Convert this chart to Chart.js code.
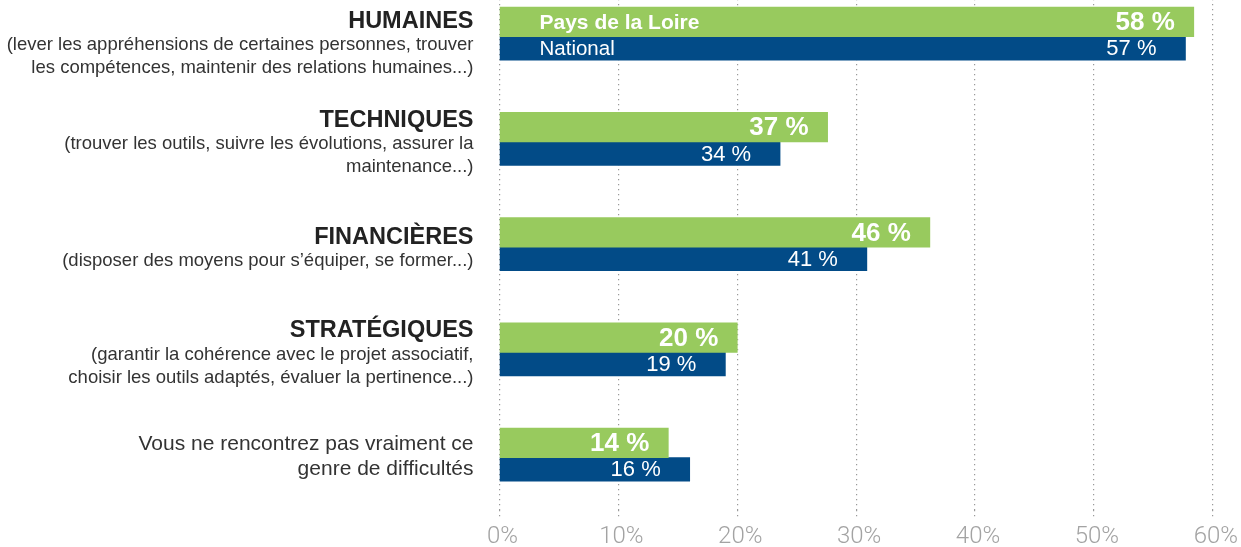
<!DOCTYPE html>
<html>
<head>
<meta charset="utf-8">
<script src="https://cdn.jsdelivr.net/npm/chart.js@4"></script>
<style>
  html, body { margin: 0; padding: 0; background: #fff; overflow: hidden; }
  #wrap { position: absolute; left: 0; top: -16px; width: 1241px; height: 563px; }
</style>
</head>
<body>
<div id="wrap"><canvas id="difficultesChart"></canvas></div>
<script>
// categories (titles + description lines shown left of the bars)
const titles = ['HUMAINES', 'TECHNIQUES', 'FINANCIÈRES', 'STRATÉGIQUES', ''];
const descriptions = [
  ['(lever les appréhensions de certaines personnes, trouver', 'les compétences, maintenir des relations humaines...)'],
  ['(trouver les outils, suivre les évolutions, assurer la', 'maintenance...)'],
  ['(disposer des moyens pour s\u2019équiper, se former...)'],
  ['(garantir la cohérence avec le projet associatif,', 'choisir les outils adaptés, évaluer la pertinence...)'],
  ['Vous ne rencontrez pas vraiment ce', 'genre de difficultés']
];

// bar lengths as drawn in the picture (some bars are shorter than their printed value)
const paysValues = [58.4, 27.6, 36.2, 20.0, 14.2];
const nationalValues = [57.7, 23.6, 30.9, 19.0, 16.0];

// printed values
const paysLabels = ['58 %', '37 %', '46 %', '20 %', '14 %'];
const nationalLabels = ['57 %', '34 %', '41 %', '19 %', '16 %'];

const xTicks = [0, 10, 20, 30, 40, 50, 60];

const seriesNames = ['Pays de la Loire', 'National'];

const GREEN = '#98ca5e';
const NAVY = '#024b87';
const FONT = '"Liberation Sans", Arial, sans-serif';

const labelPlugin = {
  id: 'labels',
  afterDatasetsDraw(chart) {
    const ctx = chart.ctx;
    const yScale = chart.scales.y;
    const left = chart.chartArea.left;
    ctx.save();

    // left side category texts
    ctx.textAlign = 'right';
    ctx.textBaseline = 'middle';
    titles.forEach((t, i) => {
      const c = yScale.getPixelForValue(i);
      const lines = [];
      if (t) lines.push({ text: t, font: 'bold 23.5px ' + FONT, h: 24, color: '#222' });
      descriptions[i].forEach(d => {
        if (t) lines.push({ text: d, font: '18.5px ' + FONT, h: 23, color: '#333' });
        else lines.push({ text: d, font: '21px ' + FONT, h: 25, color: '#333' });
      });
      const total = lines.reduce((s, l) => s + l.h, 0);
      let y = c - total / 2 + (t ? 1.5 : -1) + (i === 0 ? 6 : 0);
      lines.forEach(l => {
        ctx.font = l.font;
        ctx.fillStyle = l.color;
        ctx.fillText(l.text, left - 26, y + l.h / 2);
        y += l.h;
      });
    });

    // values inside the bars
    ctx.fillStyle = '#fff';
    const metaP = chart.getDatasetMeta(0);
    const metaN = chart.getDatasetMeta(1);
    ctx.textAlign = 'right';
    metaP.data.forEach((bar, i) => {
      ctx.font = 'bold 26px ' + FONT;
      ctx.fillText(paysLabels[i], bar.x - 19, bar.y + 1);
    });
    metaN.data.forEach((bar, i) => {
      ctx.font = '22px ' + FONT;
      ctx.fillText(nationalLabels[i], bar.x - 29, bar.y + 1);
    });

    // series names in the first group
    ctx.textAlign = 'left';
    ctx.font = 'bold 21px ' + FONT;
    ctx.fillText(seriesNames[0], left + 40, metaP.data[0].y + 1);
    ctx.font = '20.5px ' + FONT;
    ctx.fillText(seriesNames[1], left + 40, metaN.data[0].y + 1);
    ctx.restore();
  }
};

new Chart(document.getElementById('difficultesChart'), {
  type: 'bar',
  data: {
    labels: titles.map((t, i) => t || descriptions[i][0]),
    datasets: [
      {
        label: seriesNames[0],
        data: paysValues,
        backgroundColor: GREEN,
        barThickness: 29.5,
        clip: false
      },
      {
        label: seriesNames[1],
        data: nationalValues,
        backgroundColor: NAVY,
        barThickness: 23.5,
        clip: false
      }
    ]
  },
  options: {
    indexAxis: 'y',
    responsive: true,
    maintainAspectRatio: false,
    animation: false,
    layout: { padding: { left: 499.5, right: 25, top: 0, bottom: 0 } },
    plugins: {
      legend: { display: false },
      tooltip: { enabled: false }
    },
    scales: {
      y: {
        display: false,
        offset: true
      },
      x: {
        min: 0,
        max: 60,
        afterBuildTicks: scale => { scale.ticks = xTicks.map(v => ({ value: v })); },
        afterFit: scale => { scale.height = 36.7; },
        grid: {
          color: '#999',
          lineWidth: 1.2,
          tickLength: 6,
          tickColor: '#999',
          tickBorderDash: [1.2, 3.8]
        },
        border: { display: false, dash: [1.2, 3.8] },
        ticks: {
          padding: 6,
          labelOffset: 3,
          color: '#a3a3a3',
          font: { family: 'Roboto, "Liberation Sans", sans-serif', size: 24, weight: 300 },
          callback: v => v + '%'
        }
      }
    }
  },
  plugins: [labelPlugin]
});
</script>
</body>
</html>
